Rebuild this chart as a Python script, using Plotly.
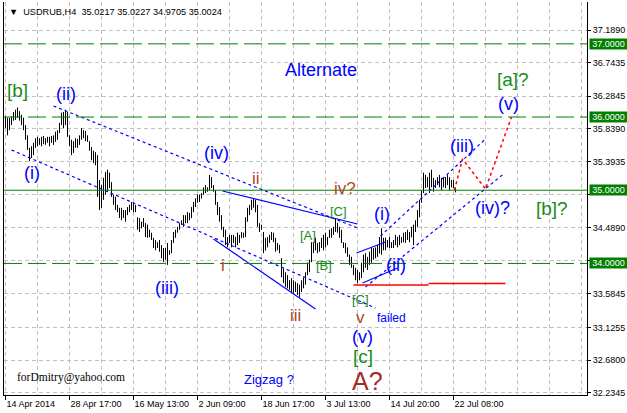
import plotly.graph_objects as go

# ---------------- data (USDRUB H4 bars) ----------------
high = [36.01,35.99,35.99,36.01,36.07,36.10,36.13,36.08,36.03,35.99,
        35.89,35.75,35.58,35.60,35.65,35.71,35.73,35.71,35.73,35.74,
        35.71,35.73,35.73,35.74,35.75,35.80,35.82,35.92,36.06,36.07,
        36.10,36.07,35.75,35.69,35.67,35.71,35.70,35.75,35.85,35.82,
        35.81,35.75,35.67,35.59,35.54,35.52,35.48,35.14,35.07,35.17,
        35.25,35.28,35.24,35.11,34.94,34.91,34.80,34.76,34.76,34.73,
        34.73,34.77,34.80,34.84,34.83,34.80,34.63,34.62,34.57,34.62,
        34.55,34.53,34.46,34.42,34.35,34.32,34.29,34.32,34.25,34.21,
        34.21,34.28,34.18,34.32,34.43,34.46,34.50,34.55,34.59,34.66,
        34.66,34.70,34.69,34.77,34.84,34.89,34.94,34.94,34.96,35.04,
        35.07,35.04,35.21,35.18,35.07,35.00,34.84,34.77,34.66,34.50,
        34.46,34.36,34.39,34.39,34.39,34.36,34.42,34.39,34.43,34.42,
        34.63,34.76,34.80,34.87,34.89,34.87,34.80,34.55,34.53,34.43,
        34.35,34.36,34.39,34.43,34.42,34.35,34.28,34.25,34.07,33.94,
        33.88,33.84,33.77,33.80,33.77,33.75,33.73,33.71,33.77,33.81,
        33.88,34.01,34.05,34.29,34.29,34.35,34.28,34.29,34.35,34.39,
        34.42,34.36,34.46,34.48,34.50,34.62,34.55,34.50,34.46,34.29,
        34.28,34.22,34.12,34.09,33.98,33.94,33.91,33.88,34.01,34.12,
        34.14,34.09,34.16,34.21,34.21,34.22,34.25,34.36,34.48,34.35,
        34.35,34.32,34.36,34.29,34.32,34.39,34.36,34.39,34.36,34.42,
        34.43,34.46,34.43,34.50,34.53,34.59,34.73,34.87,35.00,35.24,
        35.21,35.18,35.24,35.28,35.17,35.14,35.18,35.21,35.17,35.17,
        35.18,35.21,35.18,35.14,35.14,35.0227]
low = [35.85,35.75,35.82,35.89,35.95,35.96,35.99,35.95,35.89,35.82,
       35.69,35.55,35.40,35.44,35.48,35.58,35.60,35.62,35.60,35.63,
       35.62,35.65,35.60,35.65,35.62,35.66,35.69,35.78,35.89,35.85,
       35.89,35.73,35.60,35.48,35.51,35.58,35.58,35.62,35.69,35.71,
       35.67,35.66,35.54,35.41,35.37,35.34,34.91,34.73,34.76,34.87,
       34.94,34.98,35.03,34.91,34.80,34.73,34.70,34.62,34.59,34.62,
       34.57,34.66,34.70,34.73,34.70,34.70,34.46,34.43,34.48,34.50,
       34.36,34.35,34.36,34.32,34.21,34.18,34.21,34.16,34.07,34.02,
       34.05,33.98,34.12,34.14,34.28,34.35,34.42,34.46,34.53,34.50,
       34.55,34.55,34.59,34.62,34.70,34.77,34.83,34.84,34.89,34.94,
       34.96,34.98,35.00,35.03,34.98,34.80,34.66,34.57,34.46,34.36,
       34.25,34.22,34.28,34.22,34.28,34.22,34.25,34.28,34.35,34.35,
       34.36,34.57,34.66,34.73,34.76,34.70,34.50,34.43,34.46,34.14,
       34.18,34.22,34.28,34.32,34.29,34.16,34.18,34.14,33.81,33.73,
       33.68,33.66,33.64,33.61,33.60,33.61,33.57,33.54,33.61,33.66,
       33.71,33.84,33.88,34.02,34.14,34.18,34.14,34.16,34.21,34.18,
       34.22,34.25,34.35,34.35,34.39,34.43,34.42,34.35,34.28,34.21,
       34.14,34.09,33.98,33.94,33.84,33.77,33.73,33.77,33.80,33.88,
       33.94,33.91,33.98,34.01,34.05,34.07,34.09,34.14,34.12,34.18,
       34.18,34.22,34.21,34.21,34.21,34.25,34.22,34.25,34.28,34.29,
       34.28,34.32,34.29,34.36,34.25,34.43,34.50,34.63,34.83,34.96,
       35.03,35.04,34.96,35.04,34.98,35.03,35.07,35.04,35.00,35.04,
       35.03,35.07,35.00,35.04,35.03,34.9705]
open_ = [35.90,35.95,35.83,35.95,35.98,36.05,36.00,36.07,35.98,35.92,
         35.86,35.72,35.56,35.45,35.57,35.62,35.68,35.65,35.69,35.64,
         35.70,35.66,35.70,35.66,35.72,35.67,35.77,35.80,35.90,36.02,
         35.90,36.05,35.74,35.63,35.52,35.64,35.68,35.63,35.72,35.80,
         35.74,35.74,35.66,35.56,35.44,35.40,35.46,35.10,34.80,35.00,
         35.12,35.20,35.05,35.10,34.93,34.84,34.78,34.72,34.65,34.70,
         34.64,34.70,34.75,34.78,34.80,34.74,34.62,34.50,34.55,34.51,
         34.54,34.40,34.45,34.38,34.34,34.24,34.28,34.23,34.20,34.10,
         34.06,34.16,34.13,34.16,34.30,34.40,34.44,34.48,34.53,34.57,
         34.62,34.60,34.68,34.63,34.75,34.82,34.86,34.92,34.89,34.94,
         35.02,34.99,35.02,35.17,35.05,34.99,34.83,34.69,34.60,34.48,
         34.40,34.28,34.32,34.35,34.28,34.36,34.26,34.38,34.35,34.40,
         34.37,34.60,34.72,34.77,34.84,34.80,34.74,34.53,34.48,34.42,
         34.18,34.30,34.29,34.36,34.40,34.32,34.20,34.25,34.06,33.84,
         33.77,33.72,33.76,33.68,33.74,33.64,33.70,33.60,33.68,33.74,
         33.78,33.85,33.98,34.02,34.26,34.18,34.27,34.18,34.25,34.32,
         34.23,34.35,34.36,34.43,34.40,34.47,34.55,34.46,34.38,34.28,
         34.24,34.17,34.11,34.01,33.97,33.87,33.80,33.78,33.84,33.98,
         34.08,33.98,34.05,34.02,34.16,34.10,34.18,34.14,34.32,34.20,
         34.30,34.23,34.28,34.24,34.27,34.30,34.36,34.27,34.35,34.31,
         34.39,34.33,34.42,34.36,34.47,34.44,34.56,34.70,34.84,34.97,
         35.20,35.08,35.15,35.05,35.16,35.04,35.10,35.15,35.08,35.12,
         35.07,35.15,35.12,35.05,35.10,35.0217]
close = [35.95,35.80,35.95,35.98,36.05,36.00,36.10,35.98,35.92,35.86,
         35.72,35.58,35.45,35.57,35.62,35.68,35.65,35.69,35.64,35.70,
         35.66,35.70,35.64,35.72,35.66,35.77,35.80,35.90,36.02,35.90,
         36.05,35.76,35.63,35.52,35.64,35.68,35.62,35.72,35.80,35.74,
         35.78,35.68,35.56,35.44,35.40,35.48,34.95,34.80,35.02,35.12,
         35.20,35.05,35.20,34.95,34.84,34.78,34.72,34.65,34.70,34.64,
         34.70,34.75,34.78,34.80,34.74,34.72,34.50,34.55,34.50,34.58,
         34.40,34.45,34.38,34.35,34.24,34.28,34.23,34.20,34.10,34.06,
         34.16,34.12,34.16,34.30,34.40,34.44,34.48,34.53,34.57,34.62,
         34.60,34.68,34.62,34.75,34.82,34.86,34.92,34.87,34.94,35.02,
         34.98,35.02,35.18,35.05,35.00,34.83,34.69,34.60,34.48,34.40,
         34.28,34.32,34.35,34.25,34.36,34.25,34.38,34.30,34.40,34.37,
         34.60,34.72,34.77,34.84,34.80,34.74,34.53,34.48,34.50,34.18,
         34.30,34.26,34.36,34.40,34.32,34.20,34.25,34.16,33.84,33.77,
         33.72,33.80,33.68,33.75,33.64,33.70,33.60,33.68,33.74,33.78,
         33.85,33.98,34.02,34.26,34.18,34.30,34.18,34.25,34.32,34.22,
         34.38,34.28,34.43,34.38,34.47,34.58,34.46,34.38,34.30,34.24,
         34.17,34.12,34.01,34.04,33.87,33.80,33.78,33.84,33.98,34.08,
         33.98,34.05,34.02,34.16,34.10,34.18,34.14,34.32,34.20,34.30,
         34.22,34.28,34.24,34.27,34.30,34.36,34.27,34.35,34.31,34.39,
         34.33,34.42,34.34,34.47,34.30,34.56,34.70,34.84,34.97,35.20,
         35.08,35.15,35.00,35.24,35.02,35.10,35.15,35.08,35.12,35.07,
         35.15,35.12,35.04,35.10,35.03,35.0024]
bar_idx = list(range(len(high)))

date_tick_bars = [0, 32, 64, 96, 128, 160, 192, 224]
date_tick_text = ["14 Apr 2014", "28 Apr 17:00", "16 May 13:00", "2 Jun 09:00",
                  "18 Jun 17:00", "3 Jul 13:00", "14 Jul 20:00", "22 Jul 08:00"]
price_ticks = [37.1890, 36.7435, 36.2845, 35.8390, 35.3935, 34.9480,
               34.4890, 34.0345, 33.5845, 33.1255, 32.6800, 32.2345]
hidden_price_ticks = [34.9480, 34.0345]   # covered by the level boxes
level_prices = [37.0, 36.0, 35.0, 34.0]
level_dashed = [True, True, False, True]

# trendlines: (bar0, price0, bar1, price1)
dotted_blue = [(24, 36.151, 176, 34.484), (3, 35.550, 185, 33.391),
               (187.5, 34.375, 240, 35.700), (180, 33.678, 249, 35.222)]
solid_blue = [(108.5, 34.990, 176, 34.539), (104, 34.334, 155, 33.378),
              (175.5, 34.143, 190, 34.293), (178.5, 33.733, 196, 33.938)]
red_path_bars = [224.5, 228.5, 240, 253]
red_path_prices = [35.003, 35.427, 35.017, 36.000]
red_level = [(174, 33.705, 211.5, 33.705), (211.5, 33.726, 250, 33.726)]

BLUE = "#0000ff"; GREEN = "#1a8a1a"; BROWN = "#b5461c"; DRED = "#a52a2a"
labels = [  # text, bar, price, colour, size
    ("[b]", 6, 36.356, GREEN, 19), ("(ii)", 30, 36.315, BLUE, 18),
    ("(i)", 13, 35.235, BLUE, 18), ("(iv)", 105.5, 35.509, BLUE, 18),
    ("ii", 125, 35.167, BROWN, 17), ("iv?", 169.5, 35.017, BROWN, 17),
    ("[C]", 166.5, 34.716, GREEN, 13), ("[A]", 151, 34.388, GREEN, 13),
    ("[B]", 159, 33.965, GREEN, 13), ("(i)", 188, 34.675, BLUE, 18),
    ("(ii)", 195, 33.979, BLUE, 18), ("(iii)", 228, 35.604, BLUE, 18),
    ("(iv)?", 243.5, 34.760, BLUE, 18), ("[b]?", 273, 34.744, GREEN, 19),
    ("(v)", 251.5, 36.178, BLUE, 18), ("[a]?", 253.5, 36.506, GREEN, 19),
    ("B?", 301, 37.257, DRED, 25), ("[c]", 295, 36.834, GREEN, 19),
    ("Alternate", 157.5, 36.643, BLUE, 18), ("i", 108.5, 33.965, BROWN, 17),
    ("(iii)", 80.5, 33.664, BLUE, 18), ("iii", 145, 33.282, BROWN, 17),
    ("[C]", 177.5, 33.514, GREEN, 13), ("v", 177.5, 33.268, BROWN, 17),
    ("failed", 193, 33.255, BLUE, 12), ("(v)", 178.5, 32.995, BLUE, 18),
    ("[c]", 178.5, 32.722, GREEN, 19), ("A?", 181, 32.394, DRED, 25),
    ("Zigzag ?", 131.5, 32.421, BLUE, 13),
]

# ---------------- figure ----------------
fig = go.Figure()
fig.add_trace(go.Ohlc(
    x=bar_idx, open=open_, high=high, low=low, close=close,
    increasing=dict(line=dict(color="black", width=1)),
    decreasing=dict(line=dict(color="black", width=1)),
    tickwidth=0.25, hoverinfo="skip", showlegend=False))

for b0, p0, b1, p1 in dotted_blue:
    fig.add_trace(go.Scatter(x=[b0, b1], y=[p0, p1], mode="lines",
                             line=dict(color=BLUE, width=1.2, dash="3px,3px"),
                             hoverinfo="skip", showlegend=False))
for b0, p0, b1, p1 in solid_blue:
    fig.add_trace(go.Scatter(x=[b0, b1], y=[p0, p1], mode="lines",
                             line=dict(color=BLUE, width=1.2),
                             hoverinfo="skip", showlegend=False))
for b0, p0, b1, p1 in red_level:
    fig.add_trace(go.Scatter(x=[b0, b1], y=[p0, p1], mode="lines",
                             line=dict(color="#ff0000", width=1.6),
                             hoverinfo="skip", showlegend=False))
fig.add_trace(go.Scatter(x=red_path_bars, y=red_path_prices, mode="lines",
                         line=dict(color="#ff0000", width=1.5, dash="3px,3px"),
                         hoverinfo="skip", showlegend=False))

for lv, dashed in zip(level_prices, level_dashed):
    fig.add_shape(type="line", xref="paper", x0=0, x1=1, yref="y", y0=lv, y1=lv,
                  line=dict(color="#008000", width=1, dash="18px,6px" if dashed else "solid"))

annotations = []
for text, b, p, col, size in labels:
    annotations.append(dict(x=b, y=p, xref="x", yref="y", text=text, showarrow=False,
                            xanchor="center", yanchor="middle",
                            font=dict(family="Liberation Sans, Arial", size=size, color=col)))
for lv in level_prices:
    annotations.append(dict(x=1.0034, y=lv, xref="paper", yref="y", text=f"{lv:.4f}",
                            showarrow=False, xanchor="left", yanchor="middle",
                            bgcolor="#008000", borderpad=0, width=37, height=10, align="center",
                            font=dict(family="Liberation Sans, Arial", size=9, color="white")))
annotations.append(dict(x=0.006, y=0.975, xref="paper", yref="paper",
                        text="▼  USDRUB,H4  35.0217 35.0227 34.9705 35.0024",
                        showarrow=False, xanchor="left", yanchor="middle",
                        font=dict(family="Liberation Sans, Arial", size=9.2, color="black")))
annotations.append(dict(x=32.5, y=32.435, xref="x", yref="y", text="forDmitry@yahoo.com",
                        showarrow=False, xanchor="center", yanchor="middle",
                        font=dict(family="Liberation Serif, Times New Roman", size=11.5, color="black")))

grid_minor = [16, 48, 80, 112, 144, 176, 208, 240, 256, 272, 288]
fig.update_layout(
    width=627, height=413, autosize=False,
    margin=dict(l=4, r=40, t=2, b=18, pad=0),
    plot_bgcolor="white", paper_bgcolor="white",
    annotations=annotations, showlegend=False,
    xaxis=dict(range=[-0.75, 290.75], tickvals=date_tick_bars, ticktext=date_tick_text,
               ticks="outside", ticklen=4, tickcolor="black",
               ticklabelposition="outside right",
               tickfont=dict(family="Liberation Sans, Arial", size=9, color="black"),
               showgrid=True, gridcolor="#c0c0c0", griddash="4px,3px", gridwidth=1,
               minor=dict(tickvals=grid_minor, showgrid=True, gridcolor="#c0c0c0",
                          griddash="4px,3px", ticks=""),
               showline=True, linecolor="black", linewidth=1, zeroline=False,
               rangeslider=dict(visible=False), fixedrange=True),
    yaxis=dict(side="right", range=[32.2026, 37.5715], tickvals=price_ticks,
               ticktext=["" if v in hidden_price_ticks else f"{v:.4f}" for v in price_ticks],
               ticks="outside", ticklen=3, tickcolor="black",
               tickfont=dict(family="Liberation Sans, Arial", size=9, color="black"),
               showgrid=True, gridcolor="#c0c0c0", griddash="4px,3px", gridwidth=1,
               showline=True, linecolor="black", linewidth=1, mirror=True,
               zeroline=False, fixedrange=True),
)

fig.write_html("out.html", config={"displayModeBar": False, "staticPlot": True},
               post_script="document.body.style.margin='0px';")
